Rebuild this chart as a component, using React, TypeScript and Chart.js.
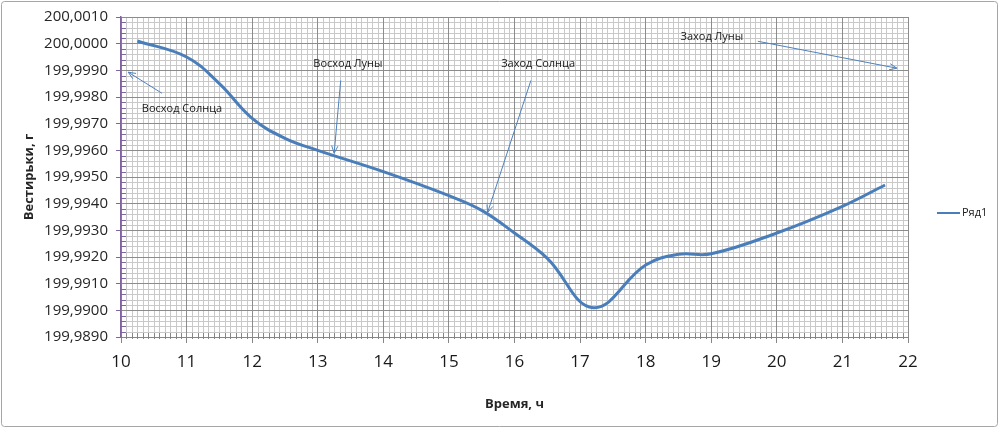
import { useEffect, useRef } from "react";
import { Chart, registerables } from "chart.js";

Chart.register(...registerables);

const hours = [10.25, 11, 11.5, 12, 12.5, 13, 14, 15, 15.5, 16, 16.5, 17.2, 18, 18.5, 19, 20, 21, 21.65];
const weights = [
  200.0001, 199.9995, 199.9985, 199.9972, 199.99645, 199.996, 199.9952, 199.9943, 199.99375,
  199.9929, 199.99195, 199.9901, 199.9917, 199.9921, 199.99212, 199.9929, 199.9939, 199.9947,
];

const xTickLabels = [10, 11, 12, 13, 14, 15, 16, 17, 18, 19, 20, 21, 22];
const yTickValues = [
  199.989, 199.99, 199.991, 199.992, 199.993, 199.994, 199.995, 199.996, 199.997, 199.998,
  199.999, 200.0, 200.001,
];
const xMinorPerMajor = 12;
const yMinorPerMajor = 5;

// events marked with arrows: label centre, arrow start, arrow tip (data coords)
const notes = [
  { text: "Восход Солнца", tx: 10.93, ty: 199.99754, fx: 10.625, fy: 199.99814, ex: 10.11, ey: 199.99893 },
  { text: "Восход Луны", tx: 13.46, ty: 199.99926, fx: 13.35, fy: 199.99862, ex: 13.25, ey: 199.99589 },
  { text: "Заход Солнца", tx: 16.36, ty: 199.99926, fx: 16.25, fy: 199.99862, ex: 15.59, ey: 199.99367 },
  { text: "Заход Луны", tx: 19.01, ty: 200.00024, fx: 19.71, fy: 200.00009, ex: 21.83, ey: 199.99908 },
];

const seriesName = "Ряд1";
const lineColor = "#4A7EBB";
const fmt = (v: number) => v.toFixed(4).replace(".", ",");

const excelDecor = {
  id: "excelDecor",
  beforeDraw(chart: any) {
    const { ctx, chartArea: a, scales } = chart;
    const x = scales.x;
    const y = scales.y;
    ctx.save();
    ctx.strokeStyle = "#c9c9c9";
    ctx.lineWidth = 1;
    ctx.beginPath();
    for (let i = 0; i < xTickLabels.length - 1; i++) {
      for (let k = 1; k < xMinorPerMajor; k++) {
        const px = Math.round(x.getPixelForValue(xTickLabels[i] + k / xMinorPerMajor)) + 0.5;
        ctx.moveTo(px, a.top);
        ctx.lineTo(px, a.bottom);
      }
    }
    for (let i = 0; i < yTickValues.length - 1; i++) {
      const step = (yTickValues[i + 1] - yTickValues[i]) / yMinorPerMajor;
      for (let k = 1; k < yMinorPerMajor; k++) {
        const py = Math.round(y.getPixelForValue(yTickValues[i] + k * step)) + 0.5;
        ctx.moveTo(a.left, py);
        ctx.lineTo(a.right, py);
      }
    }
    ctx.stroke();
    ctx.restore();
  },
  beforeDatasetsDraw(chart: any) {
    const { ctx, chartArea: a, scales } = chart;
    const x = scales.x;
    const y = scales.y;
    ctx.save();
    ctx.lineWidth = 1;
    ctx.strokeStyle = "#868686";
    ctx.beginPath();
    for (let i = 0; i < xTickLabels.length - 1; i++) {
      for (let k = 1; k < xMinorPerMajor; k++) {
        const px = Math.round(x.getPixelForValue(xTickLabels[i] + k / xMinorPerMajor)) + 0.5;
        ctx.moveTo(px, a.bottom - 4);
        ctx.lineTo(px, a.bottom + 2);
      }
    }
    ctx.stroke();
    ctx.strokeStyle = "#8064A2";
    ctx.beginPath();
    for (let i = 0; i < yTickValues.length - 1; i++) {
      const step = (yTickValues[i + 1] - yTickValues[i]) / yMinorPerMajor;
      for (let k = 1; k < yMinorPerMajor; k++) {
        const py = Math.round(y.getPixelForValue(yTickValues[i] + k * step)) + 0.5;
        ctx.moveTo(a.left, py);
        ctx.lineTo(a.left + 5, py);
      }
    }
    ctx.stroke();
    ctx.restore();
  },
  afterDatasetsDraw(chart: any) {
    const { ctx, scales } = chart;
    const x = scales.x;
    const y = scales.y;
    ctx.save();
    ctx.font = "11px 'Open Sans', sans-serif";
    ctx.fillStyle = "#1a1a1a";
    ctx.textAlign = "center";
    ctx.textBaseline = "middle";
    ctx.strokeStyle = "#4F81BD";
    ctx.lineWidth = 1;
    notes.forEach((n) => {
      ctx.fillText(n.text, x.getPixelForValue(n.tx), y.getPixelForValue(n.ty));
      const x0 = x.getPixelForValue(n.fx);
      const y0 = y.getPixelForValue(n.fy);
      const x1 = x.getPixelForValue(n.ex);
      const y1 = y.getPixelForValue(n.ey);
      const ang = Math.atan2(y1 - y0, x1 - x0);
      ctx.beginPath();
      ctx.moveTo(x0, y0);
      ctx.lineTo(x1, y1);
      ctx.moveTo(x1 - 8 * Math.cos(ang - 0.4), y1 - 8 * Math.sin(ang - 0.4));
      ctx.lineTo(x1, y1);
      ctx.lineTo(x1 - 8 * Math.cos(ang + 0.4), y1 - 8 * Math.sin(ang + 0.4));
      ctx.stroke();
    });
    ctx.restore();
  },
  afterDraw(chart: any) {
    const { ctx, chartArea: a } = chart;
    ctx.save();
    // legend
    const ly = (a.top + a.bottom) / 2 + 36;
    ctx.strokeStyle = lineColor;
    ctx.lineWidth = 2;
    ctx.beginPath();
    ctx.moveTo(a.right + 29, ly);
    ctx.lineTo(a.right + 52, ly);
    ctx.stroke();
    ctx.font = "11px 'Open Sans', sans-serif";
    ctx.fillStyle = "#1a1a1a";
    ctx.textAlign = "left";
    ctx.textBaseline = "middle";
    ctx.fillText(seriesName, a.right + 54, ly);
    // outer frame
    ctx.strokeStyle = "#a6a6a6";
    ctx.lineWidth = 1;
    ctx.beginPath();
    ctx.roundRect(1.5, 1.5, chart.width - 4, chart.height - 3, 3);
    ctx.stroke();
    ctx.restore();
  },
};

export default function App() {
  const canvasRef = useRef<HTMLCanvasElement>(null);

  useEffect(() => {
    if (!canvasRef.current) return;
    Chart.defaults.font.family = "'Open Sans', sans-serif";
    const chart = new Chart(canvasRef.current, {
      type: "line",
      data: {
        datasets: [
          {
            label: seriesName,
            data: hours.map((h, i) => ({ x: h, y: weights[i] })),
            borderColor: lineColor,
            borderWidth: 3,
            pointRadius: 0,
            tension: 0.4,
            fill: false,
          },
        ],
      },
      options: {
        responsive: true,
        maintainAspectRatio: false,
        animation: false,
        layout: { padding: { top: 17, right: 92, bottom: 0, left: 0 } },
        plugins: { legend: { display: false }, tooltip: { enabled: false } },
        scales: {
          x: {
            type: "linear",
            min: xTickLabels[0],
            max: xTickLabels[xTickLabels.length - 1],
            afterBuildTicks: (s: any) => {
              s.ticks = xTickLabels.map((v) => ({ value: v }));
            },
            afterFit: (s: any) => {
              s.height = 91;
            },
            grid: { color: "#8c8c8c", lineWidth: 1, tickLength: 6, tickColor: "#868686" },
            border: { color: "#868686", width: 1 },
            ticks: {
              autoSkip: false,
              maxRotation: 0,
              padding: 9,
              color: "#1a1a1a",
              font: { size: 17 },
              callback: (v: any) => String(v),
            },
            title: {
              display: true,
              text: "Время, ч",
              color: "#262626",
              font: { size: 13, weight: "bold", lineHeight: 1.2 },
              padding: { top: 0, bottom: 16 },
            },
          },
          y: {
            type: "linear",
            min: yTickValues[0],
            max: yTickValues[yTickValues.length - 1],
            afterBuildTicks: (s: any) => {
              s.ticks = yTickValues.map((v) => ({ value: v }));
            },
            afterFit: (s: any) => {
              s.width = 121;
            },
            grid: { color: "#8c8c8c", lineWidth: 1, tickLength: 5, tickColor: "#8064A2" },
            border: { color: "#8064A2", width: 1.5 },
            ticks: {
              autoSkip: false,
              padding: 8,
              color: "#262626",
              font: { size: 15 },
              callback: (v: any) => fmt(Number(v)),
            },
            title: {
              display: true,
              text: "Вестирьки, г",
              color: "#262626",
              font: { size: 13, weight: "bold", lineHeight: 1.2 },
              padding: { top: 21, bottom: 0 },
            },
          },
        },
      },
      plugins: [excelDecor],
    });
    return () => chart.destroy();
  }, []);

  return (
    <div style={{ position: "absolute", left: 0, top: 0, width: 1000, height: 428, background: "#fff" }}>
      <canvas ref={canvasRef} />
    </div>
  );
}
